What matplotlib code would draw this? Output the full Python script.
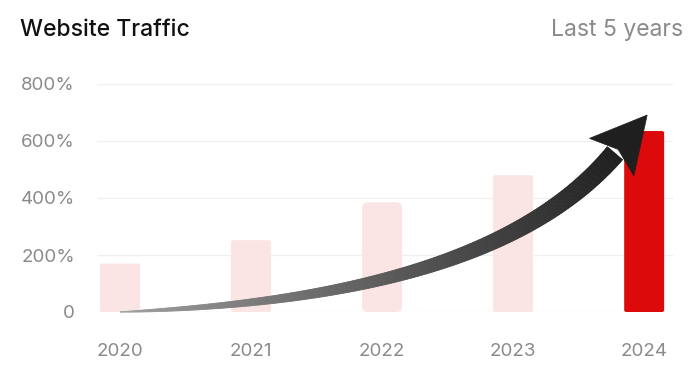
import numpy as np
import matplotlib
matplotlib.use("Agg")
import matplotlib.pyplot as plt
from matplotlib.patches import FancyBboxPatch, Polygon
from matplotlib.collections import PolyCollection
from matplotlib.transforms import IdentityTransform
import matplotlib.colors as mcolors

plt.rcParams['font.family'] = ['Inter', 'DejaVu Sans']

# data
years = ['2020', '2021', '2022', '2023', '2024']
traffic = [170, 252, 385, 480, 635]          # % growth
yticks = [0, 200, 400, 600, 800]
ytick_labels = ['0', '200%', '400%', '600%', '800%']

# styles
pale = '#fbe4e4'
red = '#dc0a0a'
bar_colors = [pale, pale, pale, pale, red]
corner_px = [2, 2, 6, 2, 2]

fig = plt.figure(figsize=(7, 3.65), dpi=100)
ax = fig.add_axes([97 / 700, 53 / 365, 576 / 700, 228 / 365])
ax.set_xlim(-0.175, 4.22)
ax.set_ylim(0, 800)

x = np.arange(len(years))
bars = ax.bar(x, traffic, width=0.305, color=bar_colors, zorder=2)

# swap bars for rounded ones (radius in pixels)
fig.canvas.draw()
px_x = ax.transData.transform((1, 0))[0] - ax.transData.transform((0, 0))[0]
px_y = ax.transData.transform((0, 1))[1] - ax.transData.transform((0, 0))[1]
for b, r in zip(bars, corner_px):
    bx, by, bw, bh = b.get_x(), b.get_y(), b.get_width(), b.get_height()
    b.remove()
    rx = r / px_x
    ax.add_patch(FancyBboxPatch((bx, by), bw, bh,
                                boxstyle=f"round,pad=0,rounding_size={rx}",
                                mutation_aspect=px_x / px_y,
                                fc=b.get_facecolor(), ec='none', zorder=2))

ax.set_yticks(yticks)
ax.set_yticklabels(ytick_labels)
ax.set_xticks(x)
ax.set_xticklabels(years)
ax.tick_params(axis='y', length=0, pad=16, labelsize=13.5, labelcolor='#8a8a8a')
ax.tick_params(axis='x', length=0, pad=22, labelsize=13.5, labelcolor='#8a8a8a')
ax.grid(axis='y', color='#f0f0f0', linewidth=1, zorder=0)
for s in ax.spines.values():
    s.set_visible(False)

# curved growth arrow, drawn in pixel space
p0 = ax.transData.transform((x[0], 0))
top = ax.transData.transform((x[-1], traffic[-1]))
tip = top + np.array([3, 16])
d = np.array([0.645, 0.764])
d = d / np.linalg.norm(d)
n = np.array([-d[1], d[0]])
base = tip - 50 * d
p1 = p0 + np.array([180, 7])
p2 = base - 160 * d

t = np.linspace(0, 1, 300)[:, None]
curve = ((1 - t) ** 3) * p0 + 3 * ((1 - t) ** 2) * t * p1 + 3 * (1 - t) * t ** 2 * p2 + t ** 3 * base
tang = np.gradient(curve, axis=0)
tang = tang / np.linalg.norm(tang, axis=1)[:, None]
nrm = np.column_stack([-tang[:, 1], tang[:, 0]])
w = 10 * (t[:, 0] ** 0.75)
upper = curve + nrm * w[:, None]
lower = curve - nrm * w[:, None]

c0 = np.array(mcolors.to_rgb('#a6a6a6'))
c1 = np.array(mcolors.to_rgb('#1f1f1f'))
polys, cols = [], []
for i in range(len(t) - 1):
    polys.append([upper[i], upper[i + 1], lower[i + 1], lower[i]])
    f = t[i, 0] ** 0.8
    cols.append(c0 * (1 - f) + c1 * f)
pc = PolyCollection(polys, facecolors=cols, edgecolors=cols, linewidths=0.6,
                    transform=IdentityTransform(), zorder=5)
fig.add_artist(pc)

head = [tip, base - 5 * d + 29 * n, base + 5 * d, base - 5 * d - 29 * n]
fig.add_artist(Polygon(head, closed=True, fc='#1f1f1f', ec='#1f1f1f', lw=0.5,
                       transform=IdentityTransform(), zorder=6))

fig.text(20 / 700, 1 - 30 / 365, 'Website Traffic', fontsize=16.5, color='#111111',
         fontweight='medium', ha='left', va='center')
fig.text(683 / 700, 1 - 30 / 365, 'Last 5 years', fontsize=16.5, color='#8a8a8a',
         ha='right', va='center')

fig.savefig('out.png', dpi=100)
